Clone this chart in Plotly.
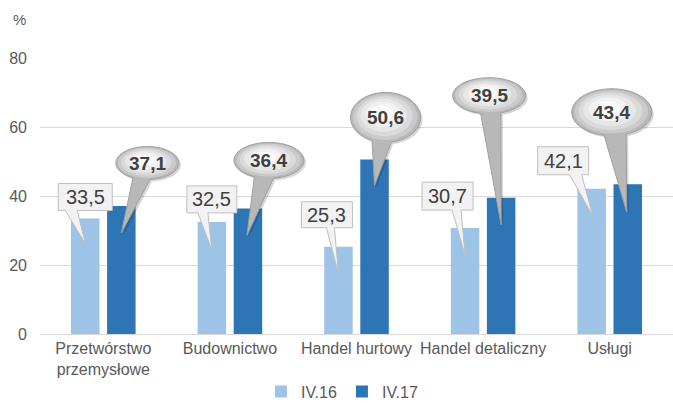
import math
import plotly.graph_objects as go

# ---------------- data ----------------
categories = ["Przetwórstwo<br>przemysłowe", "Budownictwo", "Handel hurtowy",
              "Handel detaliczny", "Usługi"]
series_names = ["IV.16", "IV.17"]
values_iv16 = [33.5, 32.5, 25.3, 30.7, 42.1]
values_iv17 = [37.1, 36.4, 50.6, 39.5, 43.4]
y_ticks = [0, 20, 40, 60, 80]
y_unit = "%"

# ---------------- style ----------------
FONT = "Arial, Liberation Sans, sans-serif"
C_LIGHT = "#9DC3E6"
C_DARK = "#2E75B6"
C_TEXT = "#595959"
C_LABEL = "#404040"
C_GRID = "#D9D9D9"
BARGAP = 0.43
BARGROUPGAP = 0.21
SLOT_OFF = (1 - BARGAP) / 4  # centre offset of each bar inside its group

# callout geometry (pixels, relative to the top-centre of the bar, y up)
# rectangle: box x0, x1, y0, y1, wedge base x0, x1, tip dx, tip dy
rect_geom = [
    (-27, 27, 8, 35, -20, -8, 0, -25),
    (-25, 25, 9, 36, -14, -4, 0, -28),
    (-37, 14, 19, 45, -12, -4, 0, -27),
    (-43, 8, 18, 46, -13, -4, 0, -27),
    (-54, -3, 14, 42, -22, -10, 1, -27),
]
# ellipse: centre dx, dy, rx, ry, tip dx, tip dy
ell_geom = [
    (26, 43, 31.5, 16.5, 0, -27),
    (21, 48, 35, 18, -1, -27),
    (11, 42, 35, 25, 0, -26),
    (-12, 102, 36.5, 18, 0, -27),
    (-16, 72, 40, 23.5, -1, -28),
]


def fmt(v):
    return f"{v:.1f}".replace(".", ",")


x_idx = list(range(len(categories)))

fig = go.Figure()
fig.add_trace(go.Bar(x=x_idx, y=values_iv16, name=series_names[0],
                     marker=dict(color=C_LIGHT, line=dict(width=0)),
                     hoverinfo="skip"))
fig.add_trace(go.Bar(x=x_idx, y=values_iv17, name=series_names[1],
                     marker=dict(color=C_DARK, line=dict(width=0)),
                     hoverinfo="skip"))

shapes = []
annotations = []


def pshape(path, xa, ya, fill, line_color=None, line_width=0):
    return dict(type="path", path=path, xref="x", yref="y",
                xsizemode="pixel", ysizemode="pixel",
                xanchor=xa, yanchor=ya, fillcolor=fill,
                line=dict(color=line_color or fill, width=line_width),
                layer="above")


# rectangle callouts for IV.16
for i, v in enumerate(values_iv16):
    bx0, bx1, by0, by1, b0, b1, tx, ty = rect_geom[i]
    xa = i - SLOT_OFF
    path = (f"M{bx0},{by1} L{bx1},{by1} L{bx1},{by0} L{b1},{by0} "
            f"L{tx},{ty} L{b0},{by0} L{bx0},{by0} Z")
    shapes.append(pshape(path, xa, v, "#F2F2F2", "#BFBFBF", 1))
    annotations.append(dict(x=xa, y=v, xref="x", yref="y", showarrow=False,
                            xshift=(bx0 + bx1) / 2, yshift=(by0 + by1) / 2,
                            text=fmt(v),
                            font=dict(family=FONT, size=20, color=C_LABEL)))


def ellipse_path(cx, cy, rx, ry, tx, ty, d=0.28, n=60, sx=0, sy=0):
    t0 = math.atan2((ty - cy) / ry, (tx - cx) / rx)
    ta = t0 + d
    tb = t0 - d + 2 * math.pi
    pts = []
    for k in range(n + 1):
        t = ta + (tb - ta) * k / n
        pts.append((cx + rx * math.cos(t) + sx, cy + ry * math.sin(t) + sy))
    s = "M" + " L".join(f"{x:.2f},{y:.2f}" for x, y in pts)
    s += f" L{tx + sx},{ty + sy} Z"
    return s


def ell_only(cx, cy, rx, ry, n=48):
    pts = [(cx + rx * math.cos(2 * math.pi * k / n),
            cy + ry * math.sin(2 * math.pi * k / n)) for k in range(n)]
    return "M" + " L".join(f"{x:.2f},{y:.2f}" for x, y in pts) + " Z"


# ellipse callouts for IV.17
for i, v in enumerate(values_iv17):
    cx, cy, rx, ry, tx, ty = ell_geom[i]
    xa = i + SLOT_OFF
    shapes.append(pshape(ellipse_path(cx, cy, rx, ry, tx, ty, sx=2, sy=-2),
                         xa, v, "rgba(0,0,0,0.16)"))
    shapes.append(pshape(ellipse_path(cx, cy, rx, ry, tx, ty),
                         xa, v, "#B8B8B8", "#A0A0A0", 1))
    for sc, col in [(0.92, "#CACACA"), (0.80, "#DADADA"), (0.66, "#E7E7E7"),
                    (0.5, "#F2F2F2"), (0.32, "#FAFAFA")]:
        shapes.append(pshape(ell_only(cx - rx * (1 - sc) * 0.15,
                                      cy + ry * (1 - sc) * 0.25,
                                      rx * sc, ry * sc), xa, v, col))
    annotations.append(dict(x=xa, y=v, xref="x", yref="y", showarrow=False,
                            xshift=cx, yshift=cy, text=f"<b>{fmt(v)}</b>",
                            font=dict(family=FONT, size=19, color=C_LABEL)))

annotations.append(dict(x=-0.032, y=1.141, xref="paper", yref="paper",
                        xanchor="center", yanchor="middle",
                        showarrow=False, text=y_unit,
                        font=dict(family=FONT, size=15, color=C_TEXT)))

fig.update_layout(
    width=673, height=403,
    margin=dict(l=40, r=0, t=58, b=69, autoexpand=False),
    paper_bgcolor="white", plot_bgcolor="white",
    barmode="group", bargap=BARGAP, bargroupgap=BARGROUPGAP,
    font=dict(family=FONT, size=16, color=C_TEXT),
    shapes=shapes, annotations=annotations,
    showlegend=True,
    legend=dict(orientation="h", x=0.477, xanchor="center",
                yref="container", y=0.028, yanchor="middle",
                font=dict(family=FONT, size=16, color=C_TEXT),
                itemwidth=30, bgcolor="rgba(0,0,0,0)"),
    xaxis=dict(range=[-0.5, len(categories) - 0.5], tickmode="array",
               tickvals=x_idx, ticktext=categories, showgrid=False,
               zeroline=False, showline=True, linecolor=C_GRID, linewidth=1,
               ticks="", tickfont=dict(family=FONT, size=16, color=C_TEXT),
               automargin=False, fixedrange=True),
    yaxis=dict(range=[0, 80], tickmode="array", tickvals=y_ticks,
               showgrid=True, gridcolor=C_GRID, gridwidth=1, zeroline=False,
               showline=False, ticks="", ticklabelstandoff=12,
               tickfont=dict(family=FONT, size=16, color=C_TEXT),
               automargin=False, fixedrange=True),
)

fig.write_html("out.html", config={"displayModeBar": False},
               post_script="document.body.style.margin='0';"
                           "document.body.style.overflow='hidden';")
